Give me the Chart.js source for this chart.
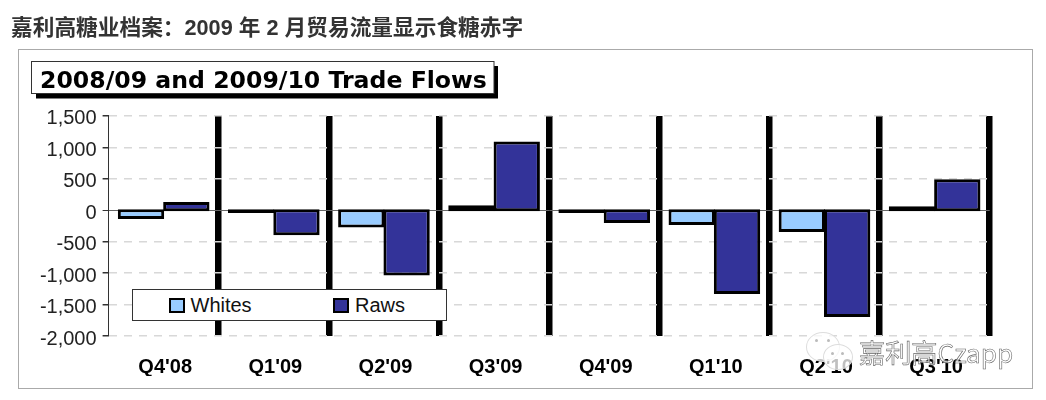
<!DOCTYPE html>
<html><head><meta charset="utf-8">
<script src="https://cdn.jsdelivr.net/npm/chart.js@4"></script>
<style>
html,body{margin:0;padding:0;background:#fff;width:1046px;height:400px;overflow:hidden}
#wrap{position:relative;width:1046px;height:400px}
#c{position:absolute;left:0;top:0}
#heading{position:absolute;left:11px;top:14px;font:bold 21.7px/28px "Liberation Sans","Noto Sans CJK SC",sans-serif;color:#333;white-space:nowrap}
#frame{position:absolute;left:18px;top:49px;width:1013px;height:338px;border:1.5px solid #aaa;box-sizing:content-box;pointer-events:none}
#legend{position:absolute;left:132px;top:289px;width:313px;height:30px;border:1px solid #333;background:#fff;font:20px/31px "Liberation Sans",sans-serif;color:#111}
#legend span{position:absolute;top:0}
#legend i{position:absolute;top:8px;width:12px;height:11px;border:2.5px solid #000;box-sizing:content-box}
#wm{position:absolute;left:859px;top:334px;font:26.2px/36px "Noto Sans CJK SC",sans-serif;color:rgba(255,255,255,.75);-webkit-text-stroke:.6px #666;white-space:nowrap}
.bub{position:absolute;border-radius:50%;border:1px solid #ddd;background:rgba(255,255,255,.75)}
.dot{position:absolute;width:3px;height:3px;border-radius:50%;background:#bbb}
</style></head><body>
<div id="wrap">
<canvas id="c" width="1046" height="400"></canvas>
<div id="heading">嘉利高糖业档案：2009 年 2 月贸易流量显示食糖赤字</div>
<div id="frame"></div>
<div id="legend"></div>
<div class="bub" style="left:806px;top:332px;width:32px;height:28px"></div>
<div class="bub" style="left:823px;top:344px;width:28px;height:24px"></div>
<div class="dot" style="left:815px;top:339px"></div><div class="dot" style="left:827px;top:339px"></div>
<div class="dot" style="left:831px;top:352px"></div><div class="dot" style="left:841px;top:352px"></div>
<div id="wm">嘉利高Czapp</div>
</div>
<script>
const categories=["Q4'08","Q1'09","Q2'09","Q3'09","Q4'09","Q1'10","Q2'10","Q3'10"];
const whites=[-115,-20,-250,55,-19,-210,-320,40];
const raws=[108,-374,-1013,1068,-178,-1307,-1674,470];
const seriesNames=["Whites","Raws"];
const seriesColors=["#99CCFF","#333399"];
const chartTitle="2008/09 and 2009/10 Trade Flows";

const lg=document.getElementById('legend');
[[35.5,seriesNames[0],seriesColors[0]],[200,seriesNames[1],seriesColors[1]]].forEach(([x,n,col])=>{
  const i=document.createElement('i');i.style.left=x+'px';i.style.background=col;lg.appendChild(i);
  const s=document.createElement('span');s.style.left=(x+22)+'px';s.textContent=n;lg.appendChild(s);
});

const titleBox={id:'titleBox',beforeDraw(chart){
  const ctx=chart.ctx;
  ctx.save();
  ctx.fillStyle='#000';ctx.fillRect(36,66,462,32.5);
  ctx.fillStyle='#fff';ctx.strokeStyle='#333';ctx.lineWidth=1;
  ctx.fillRect(31.5,61.5,462.5,32);ctx.strokeRect(31.5,61.5,462.5,32);
  ctx.restore();
}};

// the reference strokes its bars centred on the value, so grow each drawn rectangle by half a stroke
const STROKE=3;
const centredStroke={id:'centredStroke',afterDatasetsUpdate(chart){
  chart.getSortedVisibleDatasetMetas().forEach(meta=>meta.data.forEach(el=>{
    const up=el.y<el.base;
    el.y+=up?-STROKE/2:STROKE/2;
    el.base+=up?STROKE/2:-STROKE/2;
    el.width+=1;
  }));
}};

new Chart(document.getElementById('c'),{
  type:'bar',
  data:{labels:categories,datasets:[
    {label:seriesNames[0],data:whites,backgroundColor:seriesColors[0],borderColor:'#000',borderWidth:STROKE,borderSkipped:false},
    {label:seriesNames[1],data:raws,backgroundColor:seriesColors[1],borderColor:'#000',borderWidth:STROKE,borderSkipped:false}
  ]},
  plugins:[titleBox,centredStroke],
  options:{
    responsive:false,animation:false,devicePixelRatio:1,
    layout:{padding:{left:40,top:69,right:56.3,bottom:24}},
    datasets:{bar:{categoryPercentage:0.823,barPercentage:1}},
    plugins:{
      legend:{display:false},tooltip:{enabled:false},
      title:{display:true,text:chartTitle,align:'start',color:'#000',
        font:{family:'"DejaVu Sans"',size:23.6,weight:'bold',lineHeight:1.1},
        padding:{top:0,bottom:21}}
    },
    scales:{
      x:{
        offset:true,
        afterFit(s){s.height=40},
        grid:{offset:true,drawTicks:false,color:'#000',lineWidth:c=>c.index===0?0:6.5},
        border:{display:false},
        ticks:{color:'#000',padding:19,labelOffset:1.5,maxRotation:0,autoSkip:false,font:{family:'"Liberation Sans"',size:20,weight:'bold'}}
      },
      y:{
        min:-2000,max:1500,
        afterFit(s){s.width=68.6},
        afterBuildTicks(s){s.ticks=[1500,1000,500,0,-500,-1000,-1500,-2000].map(v=>({value:v}))},
        grid:{color:c=>c.tick&&c.tick.value===0?'#666':'#d8d8d8',tickColor:'#333',tickLength:6,lineWidth:c=>c.tick&&c.tick.value===0?1:1.5},
        border:{display:true,color:'#333',width:1,dash:c=>c.tick&&c.tick.value===0?[]:[8,7]},
        ticks:{color:'#222',padding:6,labelOffset:3,font:{family:'"Liberation Sans"',size:20},callback:v=>v.toLocaleString('en-US')}
      }
    }
  }
});
</script>
</body></html>
